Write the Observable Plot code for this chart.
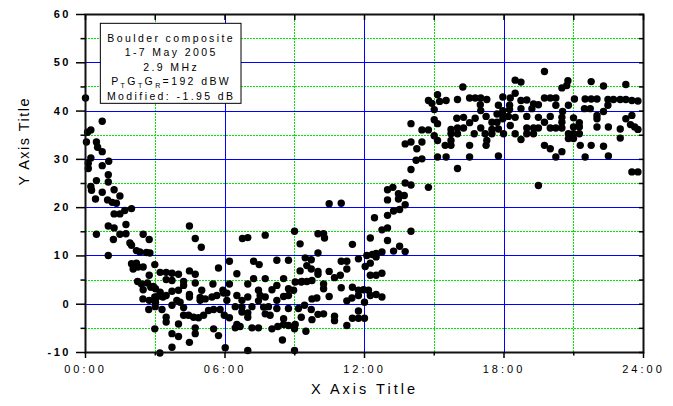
<!DOCTYPE html>
<html><head><meta charset="utf-8">
<script src="https://cdn.jsdelivr.net/npm/d3@7"></script>
<script src="https://cdn.jsdelivr.net/npm/@observablehq/plot@0.6"></script>
<style>
body{margin:0;background:#fff;}
#chart svg text{font-family: Arial, "Liberation Sans", sans-serif;}
g[aria-label="y-axis tick label"] text{letter-spacing:2.5px;font-weight:bold;}
g[aria-label="x-axis tick label"] text{letter-spacing:3px;}
g[aria-label="rule"] line{shape-rendering:crispEdges;}
</style></head><body><div id="chart"></div>
<script>
// [hour of day, dB]
const seg0003 = [[0.00,42.7],[0.72,37.9],[0.23,36.1],[0.09,35.6],[0.04,33.6],[0.47,33.6],[0.52,32.5],[0.72,31.6],[0.23,30.3],[1.00,29.6],[0.12,29.2],[0.72,28.7],[0.12,28.1],[0.98,26.8],[0.47,25.6],[0.98,25.3],[0.23,24.4],[0.26,23.6],[0.72,23.2],[1.23,23.7],[0.43,21.8],[0.95,21.6],[1.15,21.1],[1.48,22.4],[1.33,20.9],[1.23,18.7],[1.48,18.7],[1.69,19.4],[1.98,19.8],[0.98,16.2],[0.47,14.5],[1.23,15.8],[1.48,14.5],[1.74,16.5],[1.74,14.6],[1.91,12.7],[1.98,12.2],[2.48,14.5],[2.74,13.4],[2.19,11.1],[2.34,10.8],[2.62,10.7],[2.77,10.6],[0.98,10.1],[1.98,8.4],[2.19,8.5],[2.26,7.7],[2.05,7.3],[2.48,7.7],[2.98,8.2],[2.74,6.0],[2.24,4.7],[2.41,4.2],[2.67,4.4],[2.81,3.5],[2.48,3.0],[3.01,3.2],[2.98,1.5],[2.74,0.8],[3.01,0.4],[2.98,-5.1],[2.47,1.1],[2.72,-1.1],[3.20,-10.1],[1.20,13.4]];
const seg0306 = [[4.47,16.2],[4.72,13.6],[4.98,11.8],[6.19,8.9],[5.72,7.5],[3.21,6.6],[3.47,6.6],[3.72,6.4],[4.00,6.2],[4.47,6.9],[4.72,6.2],[3.47,5.1],[3.72,4.9],[4.22,4.7],[4.22,3.9],[4.72,4.4],[5.48,4.2],[2.92,3.7],[3.21,2.5],[3.72,2.7],[4.00,2.9],[4.47,2.0],[5.00,2.9],[5.91,2.9],[6.19,4.2],[3.07,1.5],[3.33,1.5],[3.47,1.8],[4.47,1.5],[4.93,1.4],[5.15,1.1],[5.44,1.5],[5.65,1.8],[5.94,2.3],[4.93,0.8],[3.93,0.8],[4.07,0.4],[6.08,0.8],[3.00,-0.5],[3.29,-1.1],[3.72,-0.2],[4.22,-0.7],[4.22,-2.3],[4.43,-2.3],[4.65,-2.7],[4.86,-2.8],[5.08,-2.3],[5.29,-1.3],[5.51,-1.1],[5.79,-1.1],[5.97,-2.3],[6.19,-2.8],[3.47,-2.7],[3.47,-3.7],[4.00,-4.1],[4.72,-4.9],[5.51,-5.1],[3.72,-6.1],[4.00,-6.7],[4.72,-6.1],[5.72,-6.5],[4.47,-7.9],[3.72,-8.9],[6.01,-9.0]];
const seg0609 = [[6.75,13.6],[6.98,13.8],[7.73,14.3],[8.99,15.1],[9.23,12.5],[7.23,8.9],[7.47,8.2],[8.23,9.1],[8.73,9.1],[9.23,6.9],[6.51,6.3],[7.23,5.3],[7.73,5.3],[8.52,5.3],[9.02,4.6],[9.28,4.6],[6.98,4.2],[8.23,3.9],[7.44,2.9],[8.02,3.0],[8.73,3.2],[8.95,2.9],[6.08,2.3],[6.51,1.8],[6.98,1.5],[7.51,1.8],[7.73,1.5],[8.52,1.6],[8.73,1.8],[6.73,0.8],[7.44,0.7],[8.23,0.8],[6.44,-0.5],[6.73,-0.6],[7.16,-0.5],[7.66,-0.6],[7.87,-0.5],[8.23,-0.9],[8.73,-0.9],[9.16,-0.9],[6.73,-1.6],[6.98,-1.8],[7.73,-2.0],[7.94,-2.3],[6.98,-2.7],[9.28,-2.7],[8.52,-3.0],[6.51,-4.2],[8.52,-4.2],[8.73,-4.4],[9.02,-4.2],[6.44,-4.9],[6.65,-4.6],[7.16,-4.9],[7.44,-4.9],[8.02,-5.1],[8.27,-4.6],[8.99,-5.1],[8.47,-7.4],[6.98,-9.6],[8.99,-9.6]];
const seg0912 = [[10.48,20.8],[11.00,20.9],[12.43,17.9],[10.00,14.6],[10.24,14.6],[10.28,13.7],[11.48,12.4],[12.25,13.7],[10.00,10.6],[9.45,9.6],[9.71,9.2],[11.00,8.9],[11.24,8.9],[11.74,9.4],[12.10,10.1],[12.34,10.3],[12.03,7.8],[11.24,7.3],[9.52,8.0],[9.71,7.3],[10.00,6.8],[10.48,6.8],[10.00,6.2],[10.71,5.5],[10.96,6.0],[9.31,4.7],[9.52,4.7],[9.74,4.9],[10.24,4.2],[10.24,3.2],[11.00,3.4],[11.48,3.5],[11.74,2.9],[11.96,3.0],[12.17,2.9],[9.74,1.1],[9.95,1.3],[10.48,1.6],[11.24,0.7],[11.46,1.3],[11.74,1.8],[12.00,0.4],[9.42,-0.2],[9.71,-1.1],[10.00,-2.1],[10.24,-2.0],[9.74,-3.2],[10.71,-2.5],[10.71,-3.4],[11.48,-2.9],[11.74,-2.9],[12.00,-2.9],[11.74,-1.4],[11.24,-4.4],[9.48,-5.6]];
const seg1215 = [[13.75,20.6],[13.51,19.6],[13.25,19.3],[12.99,18.4],[12.75,15.4],[12.99,15.8],[14.00,15.1],[12.99,13.2],[13.51,12.0],[13.25,11.0],[13.75,10.9],[12.75,10.8],[12.50,10.5],[12.50,9.8],[12.25,8.5],[12.25,6.0],[12.50,6.0],[12.75,6.4],[12.25,1.8],[12.50,2.0],[12.75,1.5],[15.14,43.4],[14.75,42.2],[14.90,41.6],[15.00,40.3],[15.00,38.2],[15.14,37.4],[14.00,37.4],[14.47,36.1],[14.75,36.1],[15.00,34.9],[14.47,33.6],[14.00,33.6],[13.75,33.2],[15.14,33.9],[14.25,32.2],[14.47,30.1],[14.22,29.8],[15.14,30.5],[14.00,27.9],[13.75,25.1],[14.00,24.7],[14.75,24.2],[13.22,24.2],[12.99,23.7],[13.46,22.9],[13.71,22.5],[13.46,21.8],[12.99,21.6]];
const seg1519 = [[16.23,45.0],[18.48,46.4],[18.73,46.0],[18.48,43.7],[15.23,42.0],[15.51,42.2],[16.00,42.4],[16.52,42.7],[16.76,42.7],[17.00,42.7],[17.26,42.4],[17.95,42.9],[18.27,42.7],[18.73,42.2],[18.98,42.3],[19.27,41.5],[16.98,41.3],[17.76,41.2],[18.24,41.2],[19.48,41.3],[17.00,40.1],[17.95,40.1],[18.24,40.3],[18.73,40.5],[19.20,40.5],[17.70,39.4],[17.95,39.2],[18.19,38.9],[18.48,38.7],[15.97,38.5],[16.26,38.7],[17.23,38.9],[18.98,38.9],[19.48,38.7],[16.52,37.6],[16.76,38.5],[17.48,37.7],[17.70,37.7],[17.95,38.4],[18.27,37.0],[15.72,36.2],[16.00,36.5],[16.26,36.5],[17.00,36.5],[17.48,36.2],[17.76,36.3],[18.98,36.5],[19.27,36.5],[19.48,36.5],[15.72,35.3],[16.00,35.3],[16.72,35.3],[17.19,35.3],[17.48,35.3],[17.98,35.3],[18.48,35.3],[18.98,35.3],[19.27,35.3],[15.72,33.9],[17.26,33.9],[18.73,34.1],[15.47,32.9],[15.72,32.9],[16.52,32.9],[17.23,32.9],[15.51,30.5],[16.52,30.5],[17.76,30.7],[16.00,28.1],[19.48,24.6]];
const seg1924 = [[19.74,48.2],[20.75,46.3],[20.49,44.8],[20.70,45.3],[21.75,46.1],[22.28,45.2],[23.24,45.5],[19.74,42.7],[19.99,42.7],[20.23,42.7],[21.03,42.5],[21.49,42.5],[21.75,42.5],[22.00,42.5],[22.47,42.4],[22.71,42.4],[23.00,42.4],[23.24,42.4],[23.50,42.2],[23.76,42.1],[20.23,41.2],[20.77,41.2],[22.47,41.2],[21.46,40.5],[21.71,40.5],[20.52,39.9],[22.28,39.9],[22.00,39.1],[23.50,39.1],[19.99,38.9],[20.49,38.7],[20.99,38.6],[22.00,38.4],[23.24,38.4],[19.74,37.7],[20.49,37.7],[21.24,37.6],[23.44,37.2],[19.99,36.5],[20.23,36.5],[20.49,36.5],[20.99,36.7],[21.24,36.7],[22.00,36.7],[22.49,36.7],[23.00,36.3],[23.62,36.7],[23.76,36.2],[20.77,35.3],[20.99,35.3],[21.24,35.3],[23.00,34.4],[20.77,34.3],[20.99,34.3],[19.74,32.9],[19.99,32.2],[21.28,32.9],[21.75,32.9],[22.28,32.7],[20.23,30.5],[21.49,30.5],[22.49,30.7],[20.49,31.6],[23.50,27.4],[23.76,27.4]];

const yMajorTicks = [-10,0,10,20,30,40,50,60];
const yMinorTicks = [-5,5,15,25,35,45,55];
const xMajorTicks = [0,6,12,18,24];
const xMinorTicks = [3,9,15,21];
const yGridMajor = [0,10,20,30,40,50];
const xGridMajor = [6,12,18];
const noteLines = ["Boulder composite","1-7 May 2005","2.9 MHz","PTGTGR=192 dBW","Modified: -1.95 dB"];
const noteBox = [{x1:0.66, x2:6.71, y1:41.5, y2:58.07}];
const xTitle = "X Axis Title";
const yTitle = "Y Axis Title";

const points = [...seg0003,...seg0306,...seg0609,...seg0912,...seg1215,...seg1519,...seg1924].map(([h,v]) => ({h, v}));
const fmtHour = h => String(h).padStart(2,"0") + ":00";
const minorGrid = {stroke:"#00e600", strokeWidth:1, strokeDasharray:"2,1"};

const plot = Plot.plot({
  width: 673, height: 406,
  marginLeft: 85, marginRight: 30, marginTop: 14, marginBottom: 54,
  style: {fontFamily: 'Arial, "Liberation Sans", sans-serif', fontSize: "11px", color: "black", background: "white"},
  x: {domain: [0,24], axis: null, label: null},
  y: {domain: [-10,60], axis: null, label: null},
  marks: [
    Plot.ruleY(yMinorTicks, minorGrid),
    Plot.ruleX(xMinorTicks, minorGrid),
    Plot.ruleY(yGridMajor, {stroke:"#0000ff", strokeWidth:1}),
    Plot.ruleX(xGridMajor, {stroke:"#0000ff", strokeWidth:1}),
    Plot.rect(noteBox, {x1:"x1", x2:"x2", y1:"y1", y2:"y2", fill:"white", stroke:"black", strokeWidth:1}),
    Plot.text([noteLines.join("\n")], {x: (noteBox[0].x1 + noteBox[0].x2)/2, y: 56.5, lineAnchor:"top", lineHeight:1.38, fontSize:10.5, fill:"black"}),
    Plot.dot(points, {x:"h", y:"v", r:3.7, fill:"black", stroke:null}),
    Plot.frame({stroke:"#111", strokeWidth:2}),
    Plot.axisY(yMajorTicks, {anchor:"left", tickSize:9, tickPadding:5.5, tickFormat: d => String(d), fontSize:11, strokeWidth:1.5, label:null}),
    Plot.axisY(yMinorTicks, {anchor:"left", tickSize:4.5, tickFormat: () => "", strokeWidth:1.5, label:null}),
    Plot.axisY([...yMajorTicks,...yMinorTicks], {anchor:"right", tickSize:-5, tickFormat: () => "", strokeWidth:1.5, label:null}),
    Plot.axisX(xMajorTicks, {anchor:"bottom", tickSize:6, tickPadding:7, tickFormat: fmtHour, fontSize:11, strokeWidth:1.5, label:null}),
    Plot.axisX(xMinorTicks, {anchor:"bottom", tickSize:3.5, tickFormat: () => "", strokeWidth:1.5, label:null}),
    Plot.axisX([...xMajorTicks,...xMinorTicks], {anchor:"top", tickSize:-5, tickFormat: () => "", strokeWidth:1.5, label:null}),
    Plot.text([xTitle], {frameAnchor:"bottom", dy:41, fontSize:14.5, fill:"black"}),
    Plot.text([yTitle], {frameAnchor:"left", rotate:-90, dx:-61, dy:2, fontSize:14.5, fill:"black"})
  ]
});
document.getElementById("chart").appendChild(plot);

// letter spacing and subscripts on the annotation and titles
const ns = "http://www.w3.org/2000/svg";
for (const t of plot.querySelectorAll("text")) {
  const s = t.textContent;
  if (s.startsWith(noteLines[0])) {
    t.style.letterSpacing = "2.4px";
    const tsp = t.querySelectorAll("tspan")[3];
    if (tsp) {
      tsp.textContent = "";
      const parts = [["P",0,null],["T",3,7],["G",-3,null],["T",3,7],["G",-3,null],["R",3,7],["=192 dBW",-3,null]];
      for (const [txt, dy, fs] of parts) {
        const e = document.createElementNS(ns, "tspan");
        if (dy) e.setAttribute("dy", dy);
        if (fs) e.setAttribute("font-size", fs);
        e.textContent = txt;
        tsp.appendChild(e);
      }
    }
  } else if (s === xTitle) {
    t.style.letterSpacing = "3px";
  } else if (s === yTitle) {
    t.style.letterSpacing = "1.5px";
  }
}
</script></body></html>
